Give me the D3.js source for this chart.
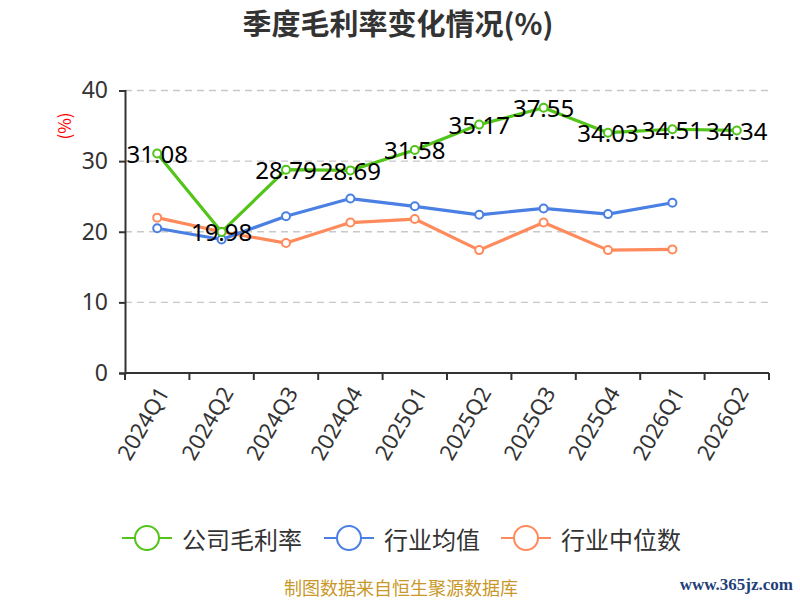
<!DOCTYPE html>
<html><head><meta charset="utf-8">
<script src="https://cdn.jsdelivr.net/npm/d3@7/dist/d3.min.js"></script>
<style>body{margin:0;background:#fff;}svg{display:block;font-family:"Noto Sans CJK SC","Noto Sans",sans-serif;}</style>
</head><body>
<svg id="c" width="800" height="600"></svg>
<script>
const categories = ["2024Q1","2024Q2","2024Q3","2024Q4","2025Q1","2025Q2","2025Q3","2025Q4","2026Q1","2026Q2"];
const companyMargin = [31.08,19.98,28.79,28.69,31.58,35.17,37.55,34.03,34.51,34.34];
const industryAvg = [20.5,18.9,22.2,24.7,23.6,22.4,23.3,22.5,24.1,null];
const industryMedian = [22.0,20.0,18.4,21.3,21.8,17.4,21.3,17.4,17.5,null];
const yTicks = [0,10,20,30,40];
const seriesNames = ["公司毛利率","行业均值","行业中位数"];
const seriesColors = ["#52c41a","#4a7fe3","#ff8a5b"];

const svg = d3.select("#c");
const pL = 125, pR = 769, pT = 90.5, pB = 373;
const x = d3.scaleBand().domain(categories).range([pL, pR]);
const y = d3.scaleLinear().domain([0,40]).range([pB, pT]);

// title
svg.append("text").attr("x",398).attr("y",22).attr("text-anchor","middle").attr("dominant-baseline","central")
  .attr("font-size",29).attr("font-weight","bold").attr("fill","#333").text("季度毛利率变化情况(%)");

// unit
svg.append("text").attr("transform","translate(63,126) rotate(-90)").attr("text-anchor","middle")
  .attr("dominant-baseline","central").attr("font-size",17).attr("fill","#ff0000").text("(%)");

// grid
svg.append("g").selectAll("line").data(yTicks.filter(d=>d>0)).join("line")
  .attr("x1",pL).attr("x2",pR).attr("y1",d=>y(d)).attr("y2",d=>y(d))
  .attr("stroke","#c8c8c8").attr("stroke-width",1.3).attr("stroke-dasharray","7,5");

// y axis
const ya = svg.append("g").attr("transform",`translate(${pL},0)`)
  .call(d3.axisLeft(y).tickValues(yTicks).tickSize(6).tickPadding(11));
ya.select(".domain").attr("stroke","#333").attr("stroke-width",2);
ya.selectAll(".tick line").attr("stroke","#333").attr("stroke-width",2);
ya.selectAll(".tick text").attr("font-size",23).attr("fill","#333").attr("font-family","'Noto Sans',sans-serif");

// x axis
const xa = svg.append("g").attr("transform",`translate(0,${pB})`)
  .call(d3.axisBottom(x).tickSize(0).tickFormat(""));
xa.select(".domain").attr("stroke","#333").attr("stroke-width",2).attr("d",`M${pL},0H${pR}`);
const bounds = categories.map(c=>x(c)).concat([pR]);
xa.selectAll("line.b").data(bounds).join("line").attr("class","b")
  .attr("x1",d=>d).attr("x2",d=>d).attr("y1",0).attr("y2",7).attr("stroke","#333").attr("stroke-width",2);
xa.selectAll("text.l").data(categories).join("text").attr("class","l")
  .attr("transform",d=>`translate(${x(d)+x.bandwidth()/2+5},15) rotate(-60)`)
  .attr("text-anchor","end").attr("dominant-baseline","central")
  .attr("font-size",22).attr("fill","#333").attr("font-family","'Noto Sans',sans-serif").text(d=>d);

// lines
const allSeries = [companyMargin, industryAvg, industryMedian];
const cx = (i)=>x(categories[i])+x.bandwidth()/2;
const line = d3.line().defined(d=>d!=null).x((d,i)=>cx(i)).y(d=>y(d));
[2,1,0].forEach(si=>{
  const data = allSeries[si];
  svg.append("path").datum(data).attr("d",line).attr("fill","none")
    .attr("stroke",seriesColors[si]).attr("stroke-width",3.2).attr("stroke-linejoin","round");
  svg.append("g").selectAll("circle").data(data.map((v,i)=>({v,i})).filter(d=>d.v!=null)).join("circle")
    .attr("cx",d=>cx(d.i)).attr("cy",d=>y(d.v)).attr("r",4)
    .attr("fill","#fff").attr("stroke",seriesColors[si]).attr("stroke-width",2);
});
// labels
svg.append("g").selectAll("text").data(companyMargin).join("text")
  .attr("x",(d,i)=>cx(i)).attr("y",d=>y(d)).attr("text-anchor","middle").attr("dominant-baseline","central")
  .attr("font-size",24).attr("fill","#000").attr("font-family","'Noto Sans',sans-serif").text(d=>d.toFixed(2));

// legend
const legX = [122, 324, 501];
seriesNames.forEach((n,i)=>{
  const g = svg.append("g").attr("transform",`translate(${legX[i]},538)`);
  g.append("line").attr("x1",0).attr("x2",50).attr("y1",0).attr("y2",0).attr("stroke",seriesColors[i]).attr("stroke-width",2);
  g.append("circle").attr("cx",25).attr("cy",0).attr("r",12).attr("fill","#fff").attr("stroke",seriesColors[i]).attr("stroke-width",2);
  g.append("text").attr("x",60).attr("y",0).attr("dominant-baseline","central").attr("font-size",24).attr("fill","#333").text(n);
});

// footer
svg.append("text").attr("x",401).attr("y",587).attr("text-anchor","middle").attr("dominant-baseline","central")
  .attr("font-size",18).attr("fill","#c9982a").text("制图数据来自恒生聚源数据库");
svg.append("text").attr("x",793).attr("y",584).attr("text-anchor","end").attr("dominant-baseline","central")
  .attr("font-size",17).attr("font-weight","bold").attr("fill","#1f3f7a").attr("font-family","'Liberation Serif',serif").text("www.365jz.com");
</script>
</body></html>
